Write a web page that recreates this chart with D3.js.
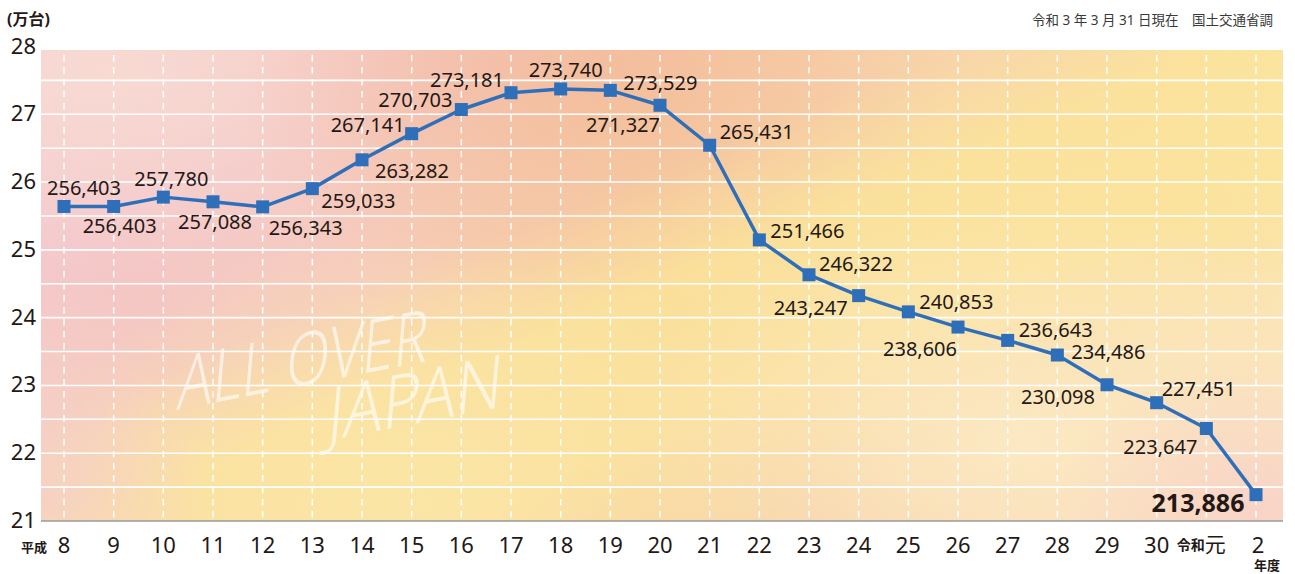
<!DOCTYPE html>
<html><head><meta charset="utf-8">
<script src="https://cdn.jsdelivr.net/npm/d3@7"></script>
<style>
html,body{margin:0;padding:0;background:#fff;}
svg{display:block;}
text{font-family:"Noto Sans","Noto Sans CJK JP",sans-serif;fill:#231815;}
</style></head><body>
<svg id="c" width="1295" height="574"></svg>
<script>
// ---- data ----
const categories = ["8","9","10","11","12","13","14","15","16","17","18","19","20","21","22","23","24","25","26","27","28","29","30","令和元","2"];
const registered = [256403,256403,257780,257088,256343,259033,263282,267141,270703,273181,273740,273529,271327,265431,251466,246322,243247,240853,238606,236643,234486,230098,227451,223647,213886];
const yTicks = [21,22,23,24,25,26,27,28];
const gridValues = [21.5,22,22.5,23,23.5,24,24.5,25,25.5,26,26.5,27,27.5];

// label placement (layout, offsets from the marker)
const labelOffsets = [[20,-19],[6,19],[8,-19],[2,20],[43,21],[46,12],[50,11],[-44,-9],[-46,-10],[-44,-13],[5,-19],[50,-8],[-37,19],[47,-14],[48,-9],[47,-11],[-48,12],[48,-10],[-38,21],[48,-11],[51,-4],[-49,12],[42,-14],[-46,18],[-58,7]];

const svg = d3.select("#c");
const pL = 41, pR = 1283, pT = 50, pB = 521;

const x = d3.scalePoint().domain(categories).range([64, 1256]);
const y = d3.scaleLinear().domain([21, 28]).range([pB, 46.5]);

// ---- background gradients ----
const defs = svg.append("defs");
const lg = defs.append("linearGradient").attr("id","base").attr("x1","0").attr("y1","0").attr("x2","1").attr("y2","0");
[[0,"#f5cfd0"],[0.25,"#f5c9c4"],[0.5,"#f4c3aa"],[0.72,"#f7d3b2"],[1,"#fae3bd"]].forEach(s=>lg.append("stop").attr("offset",s[0]).attr("stop-color",s[1]));

// diagonal yellow band
const band = defs.append("linearGradient").attr("id","band").attr("gradientUnits","userSpaceOnUse")
  .attr("x1",735).attr("y1",-40).attr("x2",985).attr("y2",560);
[[0,0],[0.25,0.2],[0.42,0.88],[0.62,0.85],[0.82,0.3],[1,0]].forEach(s=>band.append("stop").attr("offset",s[0]).attr("stop-color","#fbe499").attr("stop-opacity",s[1]));

function radial(id, cx, cy, r, color, op, sx){
  const g = defs.append("radialGradient").attr("id",id).attr("gradientUnits","userSpaceOnUse")
    .attr("cx",cx).attr("cy",cy).attr("r",r)
    .attr("gradientTransform",`translate(${cx},${cy}) scale(${sx||1},1) translate(${-cx},${-cy})`);
  g.append("stop").attr("offset",0).attr("stop-color",color).attr("stop-opacity",op);
  g.append("stop").attr("offset",1).attr("stop-color",color).attr("stop-opacity",0);
  return `url(#${id})`;
}
const plot = svg.append("g");
const addRect = f => plot.append("rect").attr("x",pL).attr("y",pT).attr("width",pR-pL).attr("height",pB-pT).attr("fill",f);
addRect("url(#base)");
addRect(radial("b1",150,310,220,"#f3c2c8",0.9,1.4));
addRect(radial("b2",110,70,200,"#f8ddd4",0.8,1.6));
addRect(radial("b3",620,95,250,"#f3b999",0.8,1.5));
addRect(radial("b4",1050,80,160,"#f6c9ab",0.5,1.6));
addRect("url(#band)");
addRect(radial("b5",420,500,260,"#fbe6a6",0.9,1.5));
addRect(radial("b8",1020,440,240,"#fcebc6",0.85,1.7));
addRect(radial("b7",1265,515,160,"#f8d1c8",0.9,1.3));
addRect(radial("b9",45,500,120,"#f5cccd",0.7,1.4));
addRect(radial("b10",1290,130,160,"#fbe49c",0.6,1.0));

// watermark
const wm = plot.append("g").style("font-family","Lato, 'Open Sans', sans-serif").style("font-weight",300);
wm.append("text").attr("transform","translate(176,410) rotate(-11) skewX(-16)").attr("font-size",72)
  .attr("textLength",255).attr("lengthAdjust","spacingAndGlyphs").style("fill","#fff").style("fill-opacity",0.62).text("ALL OVER");
wm.append("text").attr("transform","translate(326,441) rotate(-11) skewX(-16)").attr("font-size",72)
  .attr("textLength",178).attr("lengthAdjust","spacingAndGlyphs").style("fill","#fff").style("fill-opacity",0.62).text("JAPAN");

// horizontal grid
svg.append("g").selectAll("line").data(gridValues).join("line")
  .attr("x1",pL).attr("x2",pR).attr("y1",d=>y(d)).attr("y2",d=>y(d))
  .attr("stroke","#fff").attr("stroke-width",1.6);

// vertical dashed grid
svg.append("g").selectAll("line").data(categories).join("line")
  .attr("x1",d=>x(d)).attr("x2",d=>x(d)).attr("y1",pT+5).attr("y2",pB)
  .attr("stroke","#fff").attr("stroke-width",1.5).attr("stroke-dasharray","6.5,5.5");

// x axis line
svg.append("line").attr("x1",pL).attr("x2",pR).attr("y1",pB).attr("y2",pB)
  .attr("stroke","#9a9a9a").attr("stroke-width",1.5);

// y tick labels
svg.append("g").selectAll("text").data(yTicks).join("text")
  .attr("x",36).attr("y",d=>y(d)-2).attr("text-anchor","end").attr("dominant-baseline","central")
  .attr("font-size",22).text(d=>d);

// x tick labels
const xl = svg.append("g");
categories.forEach((c,i)=>{
  if(c==="令和元"){
    const t = xl.append("text").attr("x",x(c)-5).attr("y",544).attr("text-anchor","middle").attr("dominant-baseline","central");
    t.append("tspan").attr("font-size",14).attr("font-weight",700).text("令和");
    t.append("tspan").attr("font-size",21).text("元");
  } else {
    xl.append("text").attr("x",x(c)+(i===24?2:0)).attr("y",544).attr("text-anchor","middle").attr("dominant-baseline","central")
      .attr("font-size",22).text(c);
  }
});
xl.append("text").attr("x",34).attr("y",547).attr("text-anchor","middle").attr("dominant-baseline","central")
  .attr("font-size",13).attr("font-weight",700).text("平成");
xl.append("text").attr("x",1267).attr("y",565).attr("text-anchor","middle").attr("dominant-baseline","central")
  .attr("font-size",13).attr("font-weight",700).text("年度");

// unit and source
svg.append("text").attr("x",7).attr("y",19).attr("dominant-baseline","central").attr("font-size",16).attr("font-weight",700).text("(万台)");
svg.append("text").attr("x",1273).attr("y",20).attr("text-anchor","end").attr("dominant-baseline","central")
  .attr("font-size",13.5).style("fill","#3a3a3a").text("令和 3 年 3 月 31 日現在　国土交通省調");

// line
const line = d3.line().x((d,i)=>x(categories[i])).y(d=>y(d/10000));
svg.append("path").datum(registered).attr("d",line).attr("fill","none")
  .attr("stroke","#2f6fba").attr("stroke-width",3.5).attr("stroke-linejoin","round");
svg.append("g").selectAll("rect").data(registered).join("rect")
  .attr("x",(d,i)=>x(categories[i])-6.5).attr("y",d=>y(d/10000)-6.5).attr("width",13).attr("height",13)
  .attr("fill","#2f6fba");

// value labels
svg.append("g").selectAll("text").data(registered).join("text")
  .attr("x",(d,i)=>x(categories[i])+labelOffsets[i][0])
  .attr("y",(d,i)=>y(d/10000)+labelOffsets[i][1])
  .attr("text-anchor","middle").attr("dominant-baseline","central")
  .attr("font-size",(d,i)=>i===24?25:20).attr("font-weight",(d,i)=>i===24?700:400)
  .text(d=>d3.format(",")(d));
</script></body></html>
